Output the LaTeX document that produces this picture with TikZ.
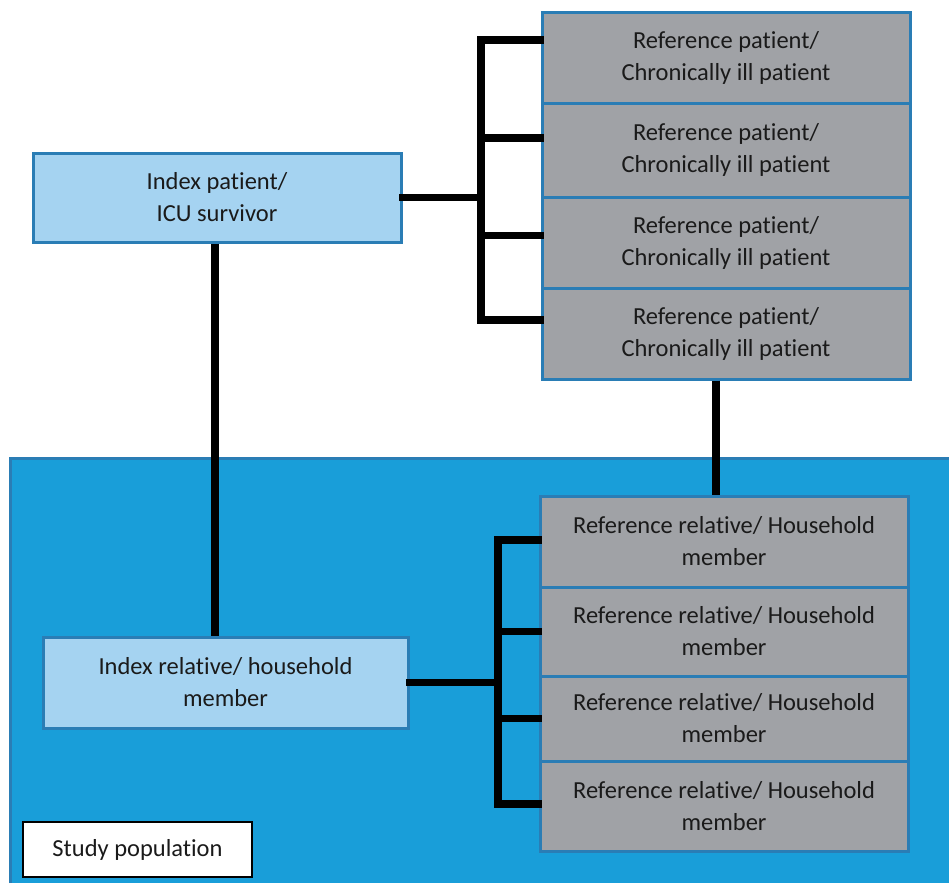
\documentclass[tikz,border=0pt]{standalone}
\usepackage{fontspec}
\setmainfont{Carlito}[Ligatures=NoCommon]
\newcommand{\tIx}{t\kern0pt i}
\definecolor{areablue}{HTML}{199ED9}
\definecolor{edgeblue}{HTML}{2A7DB5}
\definecolor{lightblue}{HTML}{A5D3F1}
\definecolor{boxgray}{HTML}{A0A2A6}
\definecolor{txt}{HTML}{1A1A1A}
\tikzset{
  refbox/.style={draw=edgeblue, line width=3pt, fill=boxgray, minimum width=368pt,
    inner sep=0pt, align=center, text=txt, font=\fontsize{24.5}{32}\selectfont},
  idxbox/.style={draw=edgeblue, line width=3pt, fill=lightblue, inner sep=0pt,
    align=center, text=txt, font=\fontsize{24.5}{32}\selectfont},
  conn/.style={draw=black, line width=7.5pt, line join=miter, line cap=rect},
}
\begin{document}
\begin{tikzpicture}[x=1pt,y=-1pt]
\useasboundingbox (0,0) rectangle (949,883);
% study population area
\fill[areablue] (10,458) rectangle (949,883);
\draw[edgeblue, line width=3pt] (10,883) -- (10,458) -- (949,458);

% index nodes
\node[idxbox, minimum width=368pt, minimum height=89pt] (ip) at (217,197.5) {Index pa\tIx ent/\\ICU survivor};
\node[idxbox, minimum width=365pt, minimum height=91pt] (ir) at (225.5,682.5) {Index rela\tIx ve/ household\\member};

% reference patients
\node[refbox, minimum height=90pt] (r1) at (726,58) {Reference pa\tIx ent/\\Chronically ill pa\tIx ent};
\node[refbox, minimum height=94pt] (r2) at (726,150) {Reference pa\tIx ent/\\Chronically ill pa\tIx ent};
\node[refbox, minimum height=91pt] (r3) at (726,242.5) {Reference pa\tIx ent/\\Chronically ill pa\tIx ent};
\node[refbox, minimum height=91pt] (r4) at (726,333.5) {Reference pa\tIx ent/\\Chronically ill pa\tIx ent};

% reference relatives
\node[refbox, minimum height=91pt] (b1) at (724,541.5) {Reference rela\tIx ve/ Household\\member};
\node[refbox, minimum height=89pt] (b2) at (724,631.5) {Reference rela\tIx ve/ Household\\member};
\node[refbox, minimum height=85pt] (b3) at (724,718.5) {Reference rela\tIx ve/ Household\\member};
\node[refbox, minimum height=90pt] (b4) at (724,806) {Reference rela\tIx ve/ Household\\member};

% study population label
\node[draw=black, line width=1.5pt, fill=white, minimum width=229pt, minimum height=55pt,
  inner sep=0pt, text=txt, font=\fontsize{24.5}{28}\selectfont] (sp) at (137.5,849.5) {Study popula\tIx on};

% top bracket
\coordinate (tt) at (481,40);
\coordinate (tb) at (481,320);
\draw[conn] (r1.west |- tt) -- (tt) -- (tb) -- (r4.west |- tb);
\draw[conn] ([yshift=12pt]r2.west) -- ([yshift=12pt]r2.west -| tt);
\draw[conn] ([yshift=7pt]r3.west) -- ([yshift=7pt]r3.west -| tt);
\draw[conn] (ip.east) -- (ip.east -| tt);

% bottom bracket
\coordinate (bt) at (498,540);
\coordinate (bb) at (498,804);
\draw[conn] (b1.west |- bt) -- (bt) -- (bb) -- (b4.west |- bb);
\draw[conn] (b2.west) -- (b2.west -| bt);
\draw[conn] (b3.west) -- (b3.west -| bt);
\draw[conn] (ir.east) -- (ir.east -| bt);

% vertical connectors
\draw[conn, line cap=butt] ([xshift=-2pt]ip.south) -- ([xshift=-2pt]ip.south |- ir.north);
\draw[conn, line cap=butt] ([xshift=-10pt]r4.south) -- ([xshift=-10pt]r4.south |- b1.north);
\end{tikzpicture}
\end{document}
